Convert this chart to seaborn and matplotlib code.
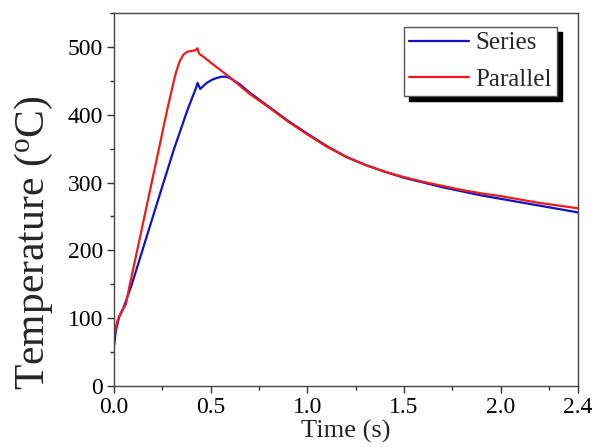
import numpy as np
import pandas as pd
import seaborn as sns
import matplotlib
matplotlib.use("Agg")
import matplotlib.pyplot as plt
from matplotlib.ticker import MultipleLocator

# ---- data ----
series_t = [0.0, 0.01, 0.026, 0.05, 0.09, 0.147, 0.22, 0.31, 0.38, 0.425, 0.432,
            0.446, 0.48, 0.51, 0.53, 0.556, 0.58, 0.60, 0.65, 0.70, 0.80, 0.90,
            1.0, 1.1, 1.2, 1.3, 1.4, 1.5, 1.6, 1.7, 1.8, 1.9, 2.0, 2.1, 2.2,
            2.3, 2.4]
series_T = [59, 82, 101, 116, 148, 200, 267, 349, 407, 440, 447,
            438, 447, 452, 454, 456, 456, 454, 445, 433, 412, 391,
            372, 354, 338, 326, 316, 307, 300, 293, 287, 281, 276, 271, 266,
            261, 256]

parallel_t = [0.0, 0.016, 0.03, 0.062, 0.08, 0.12, 0.18, 0.234, 0.275, 0.30,
              0.32, 0.34, 0.36, 0.38, 0.40, 0.42, 0.432, 0.44, 0.46, 0.50,
              0.55, 0.60, 0.65, 0.70, 0.80, 0.90, 1.0, 1.1, 1.2, 1.3, 1.4,
              1.5, 1.6, 1.7, 1.8, 1.9, 2.0, 2.1, 2.2, 2.3, 2.4]
parallel_T = [72, 95, 105, 121, 147, 200, 280, 352, 407, 438,
              462, 479, 489, 493, 494, 495, 498, 490, 486, 477,
              466, 455, 443, 431, 411, 390, 371, 353, 338, 326, 316,
              308, 301, 295, 289, 284, 280, 275, 270, 266, 262]

series_names = ["Series", "Parallel"]
series_colors = ["#1212C4", "#F01A1A"]
x_ticks = [0.0, 0.5, 1.0, 1.5, 2.0, 2.4]
x_ticklabels = ["0.0", "0.5", "1.0", "1.5", "2.0", "2.4"]
y_ticks = [0, 100, 200, 300, 400, 500]

df = pd.concat([
    pd.DataFrame({"t": series_t, "T": series_T, "name": series_names[0]}),
    pd.DataFrame({"t": parallel_t, "T": parallel_T, "name": series_names[1]}),
], ignore_index=True)

sns.set_style("ticks")
plt.rcParams["font.family"] = ["Liberation Serif", "DejaVu Serif"]
plt.rcParams["mathtext.fontset"] = "custom"
plt.rcParams["mathtext.rm"] = "Liberation Serif"

fig = plt.figure(figsize=(5.95, 4.47), dpi=100)
ax = fig.add_axes([114 / 595, 1 - 386 / 447, 464 / 595, 373 / 447])

for name, col in zip(series_names, series_colors):
    sub = df[df["name"] == name]
    sns.lineplot(data=sub, x="t", y="T", color=col, label=name, ax=ax,
                 sort=False, estimator=None, linewidth=1.6)

ax.set_xlim(0, 2.4)
ax.set_ylim(0, 550)
ax.set_xticks(x_ticks)
ax.set_xticklabels(x_ticklabels)
ax.set_yticks(y_ticks)
ax.xaxis.set_minor_locator(MultipleLocator(0.25))
ax.yaxis.set_minor_locator(MultipleLocator(50))
ax.tick_params(which="both", direction="out", top=False, right=False,
               colors="#333333", labelcolor="black", labelsize=17, width=1)
ax.tick_params(which="major", length=5, pad=3)
ax.tick_params(which="minor", length=3)

for s in ax.spines.values():
    s.set_visible(True)
    s.set_color("#444444")
    s.set_linewidth(1.0)

ax.set_xlabel("Time (s)", fontsize=19, labelpad=1)
ax.set_ylabel(r"Temperature ($\mathregular{^o}$C)", fontsize=30)
ax.yaxis.set_label_coords(-0.128, 0.385)

leg = ax.legend(loc="upper right", bbox_to_anchor=(0.955, 0.963),
                borderaxespad=0, fontsize=18, handlelength=2.4,
                handletextpad=0.25, borderpad=0.2, labelspacing=0.55,
                frameon=True, fancybox=False,
                shadow={"ox": 3.6, "oy": -3.6, "facecolor": "black",
                        "edgecolor": "black", "alpha": 1.0})
leg.get_frame().set_edgecolor("#555555")
leg.get_frame().set_linewidth(1.0)
leg.get_frame().set_alpha(1.0)

fig.savefig("out.png", dpi=100)
